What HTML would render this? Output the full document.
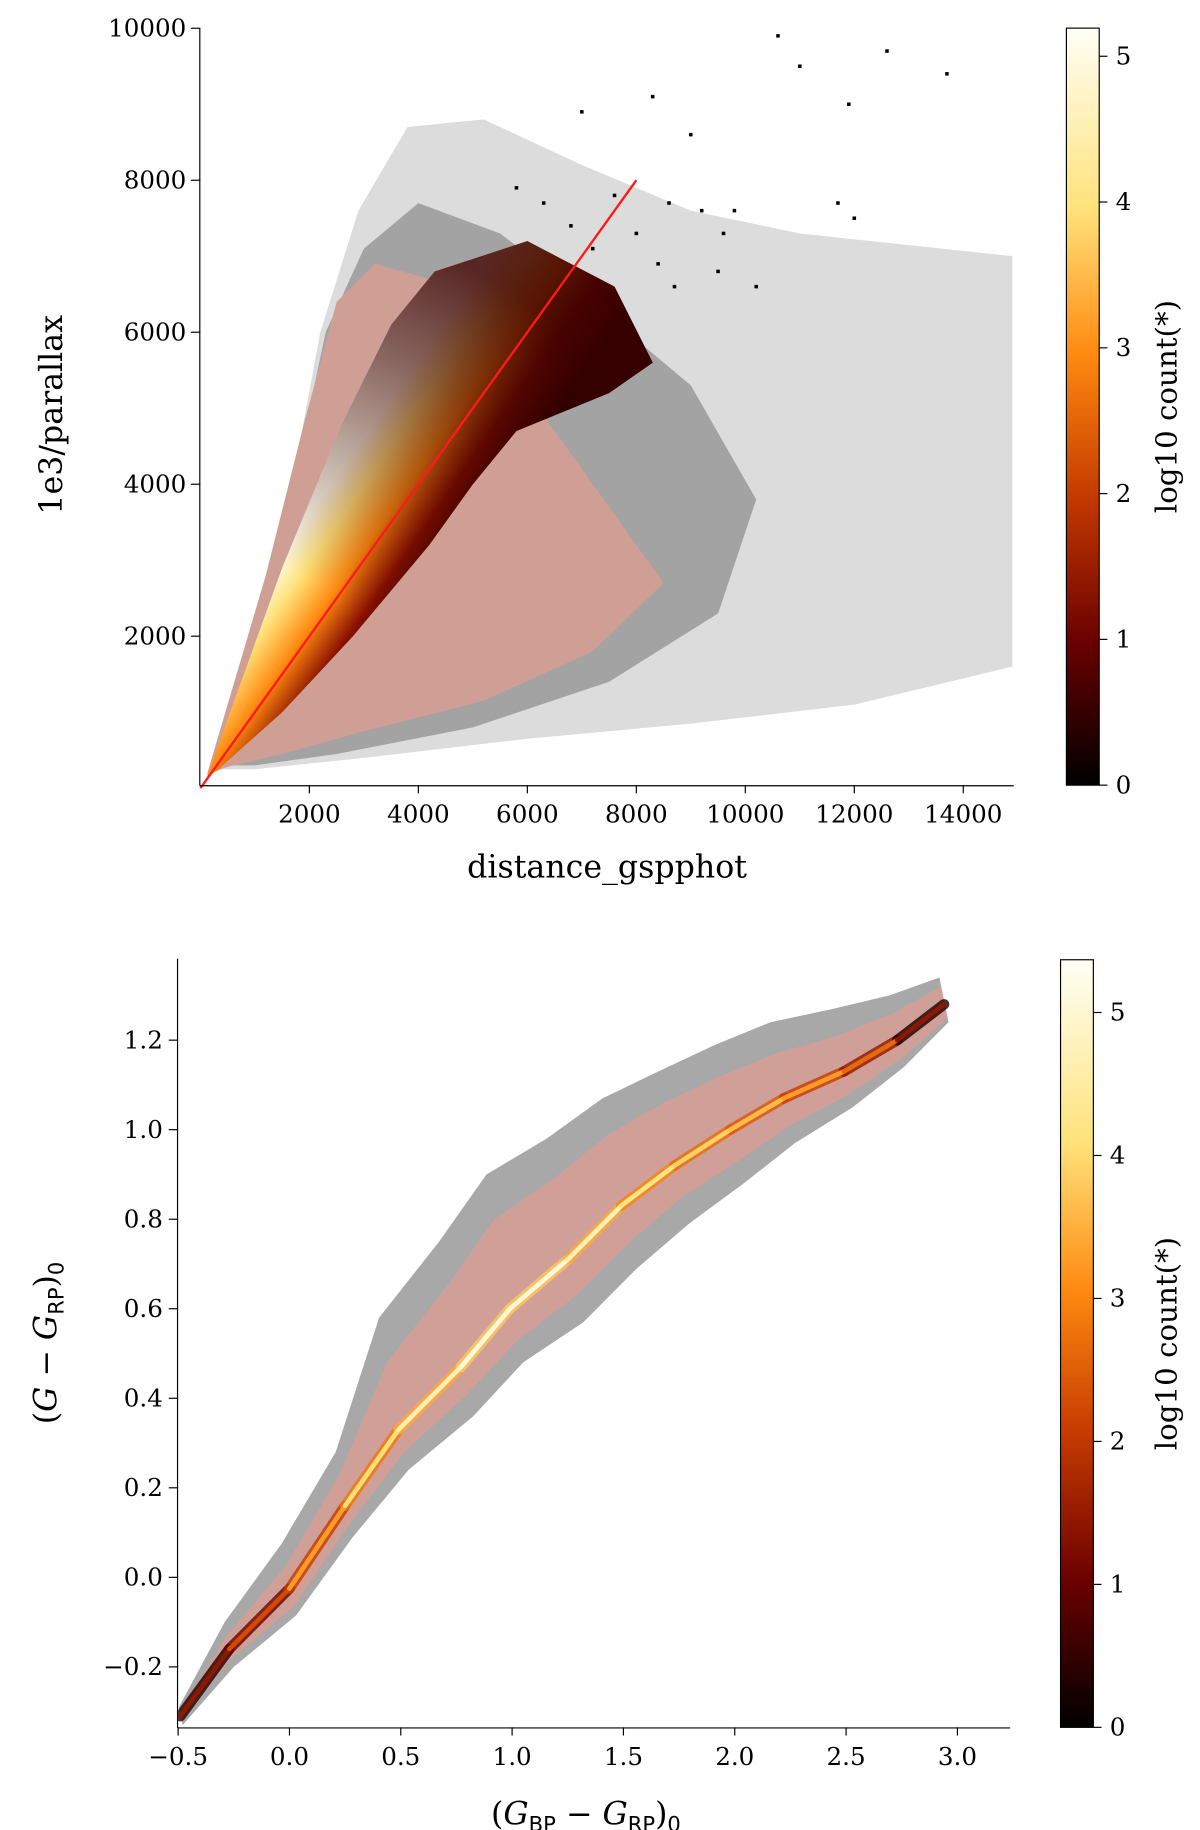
<!DOCTYPE html>
<html><head><meta charset="utf-8"><style>
html,body{margin:0;padding:0;background:#fff;}
svg{display:block;font-family:"DejaVu Serif","Liberation Serif",serif;}
</style></head><body>
<svg id="fig" width="1200" height="1830" viewBox="0 0 1024 1561.6" preserveAspectRatio="none" xmlns="http://www.w3.org/2000/svg">
<defs>
<linearGradient id="cmap" x1="0" y1="1" x2="0" y2="0">
<stop offset="0" stop-color="#000"/><stop offset="0.19" stop-color="#6b0000"/><stop offset="0.38" stop-color="#c43a00"/><stop offset="0.57" stop-color="#ff8a10"/><stop offset="0.76" stop-color="#ffe27a"/><stop offset="1" stop-color="#fffff6"/>
</linearGradient>
<clipPath id="clipTop"><rect x="171" y="24" width="694" height="646"/></clipPath>
<clipPath id="clipBot"><rect x="152" y="818" width="710" height="656"/></clipPath>
</defs>
<g id="top"></g>
<g id="bot"></g>
</svg>
<script>
// ---------- top panel data ----------
const topXTicks = [2000,4000,6000,8000,10000,12000,14000];
const topYTicks = [2000,4000,6000,8000,10000];
const cbTicks = [0,1,2,3,4,5];
const sparseCloud = [[200,250],[1500,3300],[2200,6000],[2900,7600],[3800,8700],[5200,8800],[7000,8200],[9000,7600],[11000,7300],[14900,7000],[14900,1600],[12000,1100],[9000,850],[6000,650],[3000,400],[1000,250]];
const denseCloud = [[250,300],[1500,3300],[2300,6000],[3000,7100],[4000,7700],[5500,7300],[7500,6200],[9000,5300],[10200,3800],[9500,2300],[7500,1400],[5000,800],[2500,450],[1000,300]];
const pinkRegion = [[120,180],[1200,2800],[1900,4800],[2500,6400],[3200,6900],[4200,6700],[6000,5200],[7500,3700],[8500,2700],[7200,1800],[5200,1150],[3000,750],[1500,450],[500,280]];
const wedgeLeft = [[120,150],[1500,2900],[2600,4800],[3500,6100],[4300,6800]];
const wedgeRight = [[300,230],[1500,1000],[2800,2000],[4200,3200],[5000,4000],[5800,4700],[7500,5200],[8300,5600],[7600,6600],[6000,7200]];
const blackDots = [[10600,9900],[11000,9500],[12600,9700],[13700,9400],[11900,9000],[8300,9100],[7000,8900],[9000,8600],[11700,7700],[12000,7500],[7600,7800],[8600,7700],[9600,7300],[9200,7600],[6800,7400],[8000,7300],[8700,6600],[9500,6800],[10200,6600],[6300,7700],[5800,7900],[7200,7100],[8400,6900],[9800,7600]];
const lineX = [0,8000];
const lineY = [0,8000];
// ---------- bottom panel data ----------
const botXTicks = [-0.5,0.0,0.5,1.0,1.5,2.0,2.5,3.0];
const botYTicks = [-0.2,0.0,0.2,0.4,0.6,0.8,1.0,1.2];
const ridgeX = [-0.49,-0.27,0.0,0.25,0.49,0.77,0.99,1.25,1.49,1.73,1.98,2.22,2.49,2.73,2.94];
const ridgeY = [-0.31,-0.16,-0.025,0.16,0.33,0.47,0.60,0.71,0.83,0.92,1.0,1.07,1.13,1.20,1.28];
const ridgeLog = [1.2,1.6,2.8,3.6,4.3,4.8,5.0,4.8,4.3,3.9,3.7,3.4,3.0,2.2,0.6];
const bandUp = [0.02,0.06,0.10,0.12,0.25,0.28,0.30,0.27,0.24,0.21,0.19,0.17,0.14,0.10,0.06];
const bandDown = [0.02,0.04,0.06,0.07,0.09,0.11,0.12,0.14,0.14,0.13,0.12,0.10,0.08,0.06,0.04];
const pinkUp = [0.01,0.03,0.05,0.07,0.15,0.18,0.20,0.18,0.16,0.14,0.12,0.10,0.08,0.06,0.04];
const pinkDown = [0.01,0.02,0.04,0.04,0.05,0.06,0.07,0.08,0.08,0.07,0.07,0.06,0.05,0.04,0.03];

const NS='http://www.w3.org/2000/svg';
function mk(tag,attrs,parent,txt){const e=document.createElementNS(NS,tag);for(const k in attrs)e.setAttribute(k,attrs[k]);if(txt!==undefined)e.textContent=txt;parent.appendChild(e);return e;}
function cmap(v){const st=[[0,[0,0,0]],[1,[107,0,0]],[2,[196,58,0]],[3,[255,138,16]],[4,[255,226,122]],[5.2,[255,255,246]]];
 v=Math.max(0,Math.min(5.2,v));for(let i=0;i<st.length-1;i++){if(v<=st[i+1][0]){const t=(v-st[i][0])/(st[i+1][0]-st[i][0]);const c=st[i][1].map((a,j)=>Math.round(a+(st[i+1][1][j]-a)*t));return 'rgb('+c.join(',')+')';}}return 'rgb(255,255,246)';}

// ---------- top panel ----------
const T=document.getElementById('top');
const tx=d=>171+d*0.0465, ty=r=>672.6-r*0.06485;
const ptsTop=a=>a.map(p=>tx(p[0]).toFixed(1)+','+ty(p[1]).toFixed(1)).join(' ');
const defs=document.querySelector('defs');
const lg=mk('linearGradient',{id:'wedgeGrad',gradientUnits:'userSpaceOnUse',x1:tx(1400),y1:ty(3000),x2:tx(3600),y2:ty(1900)},defs);
[[0,'#fffff0'],[0.2,'#ffe27a'],[0.45,'#ff8a10'],[0.7,'#8a1000'],[1,'#1e0000']].forEach(s=>mk('stop',{offset:s[0],'stop-color':s[1]},lg));
const rg=mk('radialGradient',{id:'fadeGrad',gradientUnits:'userSpaceOnUse',cx:tx(0),cy:ty(0),r:500},defs);
[[0,0],[0.4,0],[0.8,0.6],[1,0.85]].forEach(s=>mk('stop',{offset:s[0],'stop-color':'#3a0000','stop-opacity':s[1]},rg));
const tg=mk('g',{'clip-path':'url(#clipTop)'},T);
let e;
e=mk('polygon',{points:ptsTop(sparseCloud),fill:'#dcdcdc'},tg);


e=mk('polygon',{points:ptsTop(denseCloud),fill:'#a3a3a3'},tg);


e=mk('polygon',{points:ptsTop(pinkRegion),fill:'#cf9f96'},tg);


const wedge=wedgeLeft.concat(wedgeRight.slice().reverse());
e=mk('polygon',{points:ptsTop(wedge),fill:'url(#wedgeGrad)'},tg);


e=mk('polygon',{points:ptsTop(wedge),fill:'url(#fadeGrad)'},tg);


blackDots.forEach(p=>{
 const d=mk('rect',{x:tx(p[0])-1.5,y:ty(p[1])-1.5,width:3,height:3,fill:'#000'},tg);
 
 
});
e=mk('line',{x1:tx(lineX[0]),y1:ty(lineY[0]),x2:tx(lineX[1]),y2:ty(lineY[1]),stroke:'#ff1a1a','stroke-width':2},T);


e=mk('line',{x1:170.5,y1:24,x2:170.5,y2:670.5,stroke:'#000','stroke-width':1},T);


e=mk('line',{x1:170.5,y1:670.5,x2:865,y2:670.5,stroke:'#000','stroke-width':1},T);


topXTicks.forEach(v=>{
 mk('line',{x1:tx(v),y1:670,x2:tx(v),y2:677,stroke:'#000'},T);
 const t=mk('text',{x:tx(v),y:702,'text-anchor':'middle','font-size':21},T,String(v));
 
 
});
topYTicks.forEach(v=>{
 mk('line',{x1:163,y1:ty(v),x2:171,y2:ty(v),stroke:'#000'},T);
 const t=mk('text',{x:159,y:ty(v)+7,'text-anchor':'end','font-size':21},T,String(v));
 
 
});
e=mk('text',{x:518,y:749,'text-anchor':'middle','font-size':27},T,'distance_gspphot');


e=mk('text',{x:0,y:0,'text-anchor':'middle','font-size':27,transform:'translate(53,354) rotate(-90)'},T,'1e3/parallax');


function colorbar(g,x,yb,h,perUnit,name){
 const top=yb-h;
 const r=mk('rect',{x:x,y:top,width:28,height:h,fill:'url(#cmap)',stroke:'#000','stroke-width':1},g);
 
 
 cbTicks.forEach(v=>{const y=yb-v*perUnit;mk('line',{x1:x+28,y1:y,x2:x+35,y2:y,stroke:'#000'},g);
  const t=mk('text',{x:x+42,y:y+7,'font-size':21},g,String(v));
  
  });
 const l=mk('text',{x:0,y:0,'text-anchor':'middle','font-size':25,transform:'translate(1004,'+(top+h/2)+') rotate(-90)'},g,'log10 count(*)');
 
 
}
colorbar(T,910,670,646,124.4,'colorbar-top');

// ---------- bottom panel ----------
const B=document.getElementById('bot');
const bx=c=>247+c*190, by=v=>1346-v*382;
const bg=mk('g',{'clip-path':'url(#clipBot)'},B);
function band(up,down,fill,name){
 const a=ridgeX.map((x,i)=>bx(x-up[i]*0.35).toFixed(1)+','+by(ridgeY[i]+up[i]).toFixed(1));
 const b=ridgeX.map((x,i)=>bx(x+down[i]*0.5).toFixed(1)+','+by(ridgeY[i]-down[i]).toFixed(1)).reverse();
 const p=mk('polygon',{points:a.concat(b).join(' '),fill:fill,'stroke-linejoin':'round'},bg);
 
 
}
band(bandUp,bandDown,'#a8a8a8','grey-scatter-band');
band(pinkUp,pinkDown,'#d0a098','pink-density-band');
for(let i=0;i<ridgeX.length-1;i++){
 const c=cmap((ridgeLog[i]+ridgeLog[i+1])/2-1.2);
 const s=mk('line',{x1:bx(ridgeX[i]),y1:by(ridgeY[i]),x2:bx(ridgeX[i+1]),y2:by(ridgeY[i+1]),stroke:c,'stroke-width':9,'stroke-linecap':'round','stroke-opacity':0.8},bg);
 
 
}
for(let i=0;i<ridgeX.length-1;i++){
 const c=cmap((ridgeLog[i]+ridgeLog[i+1])/2);
 const s=mk('line',{x1:bx(ridgeX[i]),y1:by(ridgeY[i]),x2:bx(ridgeX[i+1]),y2:by(ridgeY[i+1]),stroke:c,'stroke-width':4,'stroke-linecap':'round'},bg);
 
 
}
e=mk('line',{x1:151.5,y1:818,x2:151.5,y2:1474.5,stroke:'#000'},B);


e=mk('line',{x1:151.5,y1:1474.5,x2:862,y2:1474.5,stroke:'#000'},B);


botXTicks.forEach(v=>{
 mk('line',{x1:bx(v),y1:1474,x2:bx(v),y2:1481,stroke:'#000'},B);
 const t=mk('text',{x:bx(v),y:1506,'text-anchor':'middle','font-size':21},B,(v<0?'\u2212':'')+Math.abs(v).toFixed(1));
 
 
});
botYTicks.forEach(v=>{
 mk('line',{x1:144,y1:by(v),x2:152,y2:by(v),stroke:'#000'},B);
 const t=mk('text',{x:139,y:by(v)+7,'text-anchor':'end','font-size':21},B,(v<0?'\u2212':'')+Math.abs(v).toFixed(1));
 
 
});
e=mk('text',{x:500,y:1557,'text-anchor':'middle','font-size':27},B);
e.innerHTML='(<tspan font-style="italic">G</tspan><tspan font-size="18" dy="6" font-family="DejaVu Sans">BP</tspan><tspan dy="-6"> \u2212 </tspan><tspan font-style="italic">G</tspan><tspan font-size="18" dy="6" font-family="DejaVu Sans">RP</tspan><tspan dy="-6">)</tspan><tspan font-size="18" dy="6" font-family="DejaVu Sans">0</tspan>';


e=mk('text',{x:0,y:0,'text-anchor':'middle','font-size':27,transform:'translate(48,1146) rotate(-90)'},B);
e.innerHTML='(<tspan font-style="italic">G</tspan> \u2212 <tspan font-style="italic">G</tspan><tspan font-size="18" dy="6" font-family="DejaVu Sans">RP</tspan><tspan dy="-6">)</tspan><tspan font-size="18" dy="6" font-family="DejaVu Sans">0</tspan>';


colorbar(B,905,1474,655,122,'colorbar-bottom');
</script>
</body></html>
